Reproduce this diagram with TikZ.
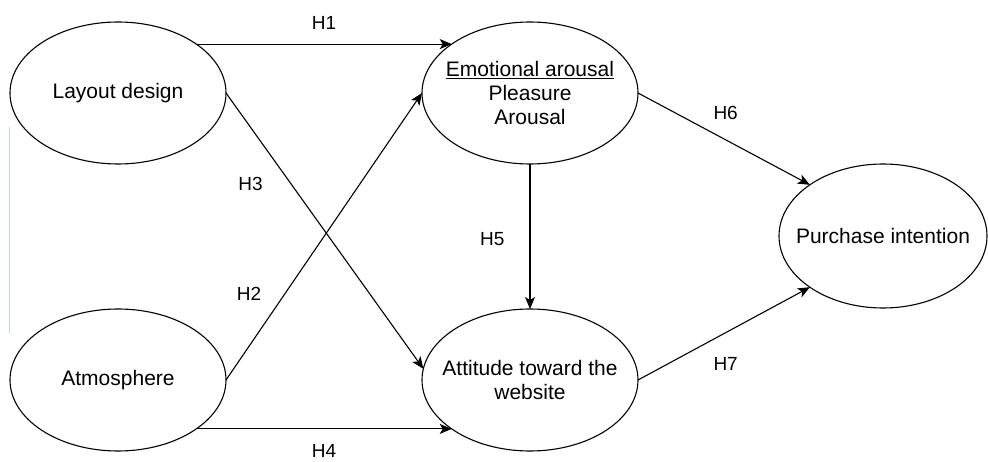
\documentclass[tikz,border=0pt]{standalone}
\usepackage{fontspec}
\setmainfont{Liberation Sans}
\usetikzlibrary{arrows.meta,shapes.geometric,positioning}
\definecolor{edgeblue}{RGB}{200,212,225}

\begin{document}
\begin{tikzpicture}[x=1pt,y=-1pt,->,>={Stealth[length=12pt,width=10pt,inset=3pt]},line width=1.1pt,
  construct/.style={ellipse,draw,minimum width=216pt,minimum height=142pt,inner xsep=-30pt,inner ysep=0pt,outer sep=0pt,align=center,font=\fontsize{21}{24}\selectfont},
  hyp/.style={font=\fontsize{19}{22}\selectfont,inner sep=0pt}]
	  \useasboundingbox (0,0) rectangle (988,462);
	  \node[construct] (LD) at (118,93)  {Layout design};
	  \node[construct] (AM) at (118,380) {Atmosphere};
	  \node[construct] (EA) at (530,93)  {\underline{Emotional arousal}\\Pleasure\\Arousal};
	  \node[construct] (AT) at (530,380) {Attitude toward the\\website};
	  \node[construct,minimum width=208pt,minimum height=144pt] (PI) at (883,236) {Purchase intention};
	  \path
(LD.32)  edge node[hyp,above=14pt] {H1} (EA.148)
(AM.east) edge node[hyp,pos=0.3,left=23pt] {H2} (EA.west)
(LD.east) edge node[hyp,pos=0.33,left=28pt] {H3} (AT.174)
(AM.-32) edge node[hyp,below=15pt] {H4} (AT.-148)
(EA.south) edge node[hyp,pos=0.52,left=25pt] {H5} (AT.north)
(EA.east) edge node[hyp,pos=0.51,above=20pt] {H6} (PI.145)
(AT.east) edge node[hyp,pos=0.51,below=24pt] {H7} (PI.215)
;
	  \draw[-,line width=1pt,edgeblue] (9,127) -- (9,333);
	\end{tikzpicture}
\end{document}
